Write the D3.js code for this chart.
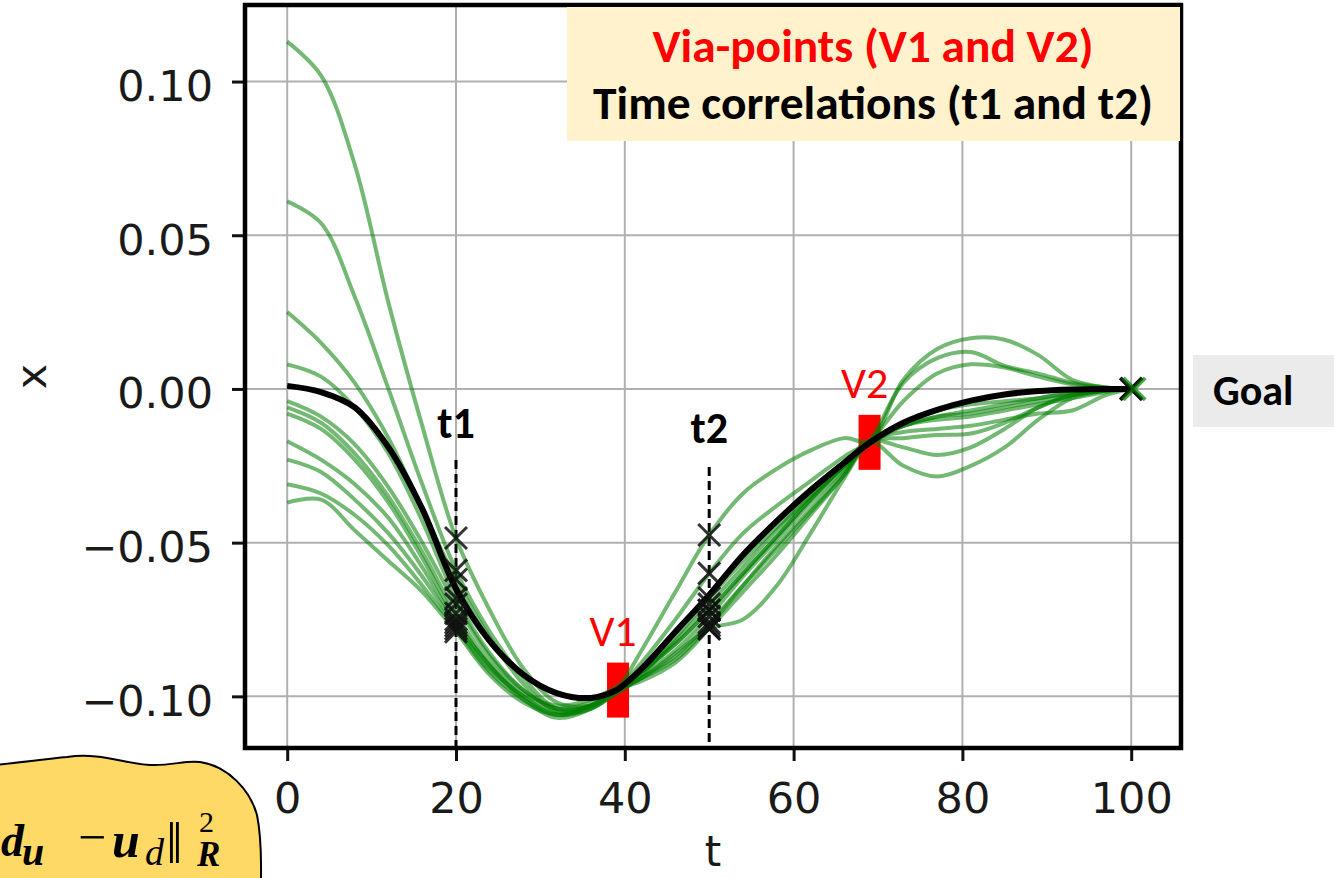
<!DOCTYPE html>
<html>
<head>
<meta charset="utf-8">
<script src="https://cdn.jsdelivr.net/npm/d3@7"></script>
<style>
  body { margin: 0; background: #fff; }
  svg { display: block; }
</style>
</head>
<body>
<div id="chart"></div>
<script>
// time grid shared by every trajectory
const tGrid = [0, 4, 8, 12, 16, 20, 24, 28, 32, 36, 39, 42, 46, 50, 54, 58, 62, 66, 69, 73, 77, 81, 85, 89, 93, 97, 100];

// black reference trajectory
const meanX = [0.001, -0.001, -0.006, -0.019, -0.039, -0.065, -0.082, -0.093, -0.099, -0.1005, -0.098, -0.091, -0.079, -0.067, -0.054, -0.043, -0.033, -0.024, -0.0175, -0.011, -0.0068, -0.0038, -0.0018, -0.0007, -0.0002, 0, 0];

// green sampled trajectories
const sample01 = [0.113, 0.102, 0.073, 0.028, -0.012, -0.0485, -0.072, -0.091, -0.102, -0.103, -0.099, -0.093, -0.081, -0.068, -0.056, -0.045, -0.035, -0.025, -0.018, -0.012, -0.009, -0.007, -0.005, -0.003, -0.0015, -0.0005, 0];
const sample02 = [0.061, 0.054, 0.030, 0.000, -0.031, -0.059, -0.079, -0.094, -0.104, -0.103, -0.098, -0.092, -0.083, -0.072, -0.060, -0.048, -0.036, -0.025, -0.017, 0.002, 0.010, 0.012, 0.0075, 0.005, 0.002, 0.0005, 0];
const sample03 = [0.025, 0.015, 0.002, -0.016, -0.039, -0.062, -0.081, -0.096, -0.105, -0.104, -0.098, -0.085, -0.066, -0.0475, -0.034, -0.026, -0.020, -0.016, -0.017, 0.003, 0.013, 0.0165, 0.016, 0.011, 0.003, 0.0005, 0];
const sample04 = [0.008, 0.004, -0.006, -0.021, -0.043, -0.068, -0.086, -0.098, -0.104, -0.103, -0.098, -0.089, -0.075, -0.060, -0.047, -0.038, -0.030, -0.022, -0.017, -0.004, 0.005, 0.008, 0.007, 0.004, 0.0015, 0.0003, 0];
const sample05 = [-0.004, -0.009, -0.018, -0.032, -0.050, -0.070, -0.087, -0.098, -0.104, -0.102, -0.098, -0.092, -0.082, -0.070, -0.058, -0.046, -0.035, -0.025, -0.017, -0.011, -0.007, -0.005, -0.004, -0.003, -0.001, -0.0003, 0];
const sample06 = [-0.006, -0.011, -0.021, -0.035, -0.053, -0.073, -0.089, -0.099, -0.103, -0.101, -0.097, -0.093, -0.085, -0.074, -0.061, -0.049, -0.037, -0.026, -0.017, -0.012, -0.010, -0.009, -0.007, -0.005, -0.003, -0.001, 0];
const sample07 = [-0.008, -0.013, -0.023, -0.037, -0.055, -0.075, -0.090, -0.100, -0.105, -0.103, -0.098, -0.094, -0.088, -0.077, -0.064, -0.051, -0.039, -0.027, -0.017, -0.014, -0.013, -0.012, -0.010, -0.008, -0.007, -0.002, 0];
const sample08 = [-0.017, -0.023, -0.031, -0.042, -0.058, -0.076, -0.090, -0.101, -0.107, -0.104, -0.098, -0.095, -0.089, -0.078, -0.066, -0.054, -0.041, -0.028, -0.017, -0.016, -0.015, -0.0145, -0.011, -0.006, -0.002, -0.0005, 0];
const sample09 = [-0.023, -0.027, -0.036, -0.047, -0.061, -0.077, -0.091, -0.100, -0.106, -0.104, -0.099, -0.094, -0.087, -0.076, -0.064, -0.052, -0.040, -0.028, -0.017, -0.019, -0.0215, -0.019, -0.013, -0.006, -0.002, -0.0005, 0];
const sample10 = [-0.031, -0.034, -0.041, -0.051, -0.064, -0.078, -0.092, -0.101, -0.106, -0.103, -0.098, -0.094, -0.086, -0.078, -0.075, -0.064, -0.047, -0.029, -0.017, -0.012, -0.009, -0.008, -0.006, -0.004, -0.002, -0.0005, 0];
const sample11 = [-0.037, -0.036, -0.046, -0.056, -0.066, -0.079, -0.093, -0.102, -0.106, -0.103, -0.098, -0.092, -0.083, -0.072, -0.060, -0.048, -0.036, -0.025, -0.017, -0.025, -0.0285, -0.025, -0.019, -0.010, -0.003, -0.0005, 0];
const samples = [sample01, sample02, sample03, sample04, sample05, sample06, sample07, sample08, sample09, sample10, sample11];

const xTicks = [0, 20, 40, 60, 80, 100];
const yTicks = [-0.10, -0.05, 0.00, 0.05, 0.10];

const corrTimes = [20, 50];
const corrLabels = ["t1", "t2"];

const viaLabels = ["V1", "V2"];
const viaT = [39.2, 69];
const viaX = [-0.0978, -0.0172];

const goalT = 100;
const goalX = 0;

const legendLines = ["Via-points (V1 and V2)", "Time correlations (t1 and t2)"];

const width = 1334;
const height = 878;
const frame = { left: 245, right: 1181, top: 5, bottom: 748 };

const x = d3.scaleLinear().domain([-5, 105.9]).range([frame.left, frame.right]);
const y = d3.scaleLinear().domain([-0.1168, 0.1249]).range([frame.bottom, frame.top]);

const svg = d3.select("#chart")
  .append("svg")
  .attr("width", width)
  .attr("height", height);

// grid
svg.append("g").selectAll("line")
  .data(xTicks)
  .join("line")
  .attr("x1", d => x(d)).attr("x2", d => x(d))
  .attr("y1", frame.top).attr("y2", frame.bottom)
  .attr("stroke", "#b0b0b0").attr("stroke-width", 2);

svg.append("g").selectAll("line")
  .data(yTicks)
  .join("line")
  .attr("y1", d => y(d)).attr("y2", d => y(d))
  .attr("x1", frame.left).attr("x2", frame.right)
  .attr("stroke", "#b0b0b0").attr("stroke-width", 2);

// axes
const xAxis = d3.axisBottom(x).tickValues(xTicks).tickSize(13).tickPadding(21);
svg.append("g")
  .attr("transform", `translate(0,${frame.bottom})`)
  .call(xAxis)
  .attr("font-family", "DejaVu Sans")
  .attr("font-size", 43)
  .call(g => g.select(".domain").remove())
  .call(g => g.selectAll(".tick line").attr("stroke", "#111").attr("stroke-width", 3))
  .call(g => g.selectAll(".tick text").attr("fill", "#1a1a1a"));

const yAxis = d3.axisLeft(y).tickValues(yTicks).tickFormat(d3.format(".2f")).tickSize(13).tickPadding(19);
svg.append("g")
  .attr("transform", `translate(${frame.left},0)`)
  .call(yAxis)
  .attr("font-family", "DejaVu Sans")
  .attr("font-size", 43)
  .call(g => g.select(".domain").remove())
  .call(g => g.selectAll(".tick line").attr("stroke", "#111").attr("stroke-width", 3))
  .call(g => g.selectAll(".tick text").attr("fill", "#1a1a1a").attr("dy", "0.44em"));

// axis titles
svg.append("text")
  .attr("x", (frame.left + frame.right) / 2)
  .attr("y", 866)
  .attr("text-anchor", "middle")
  .attr("font-family", "DejaVu Sans")
  .attr("font-size", 42)
  .attr("fill", "#1a1a1a")
  .text("t");

svg.append("text")
  .attr("transform", `translate(46,${(frame.top + frame.bottom) / 2}) rotate(-90)`)
  .attr("text-anchor", "middle")
  .attr("font-family", "DejaVu Sans")
  .attr("font-size", 43)
  .attr("fill", "#1a1a1a")
  .text("x");

// via-point boxes (under the lines)
svg.append("g").selectAll("rect")
  .data(viaT)
  .join("rect")
  .attr("x", d => x(d) - 11)
  .attr("y", (d, i) => y(viaX[i]) - 27)
  .attr("width", 22)
  .attr("height", 55)
  .attr("fill", "#ff0000");

// dashed correlation lines
const corrTop = [460, 467];
svg.append("g").selectAll("line")
  .data(corrTimes)
  .join("line")
  .attr("x1", d => x(d)).attr("x2", d => x(d))
  .attr("y1", (d, i) => corrTop[i]).attr("y2", frame.bottom)
  .attr("stroke", "#000").attr("stroke-width", 3)
  .attr("stroke-dasharray", "9,5");

const line = d3.line()
  .x((d, i) => x(tGrid[i]))
  .y(d => y(d))
  .curve(d3.curveCatmullRom.alpha(0.5));

svg.append("g").selectAll("path")
  .data(samples)
  .join("path")
  .attr("d", line)
  .attr("fill", "none")
  .attr("stroke", "#008000")
  .attr("stroke-opacity", 0.55)
  .attr("stroke-width", 4)
  .attr("stroke-linejoin", "round");

svg.append("path")
  .datum(meanX)
  .attr("d", line)
  .attr("fill", "none")
  .attr("stroke", "#000")
  .attr("stroke-width", 6);

// cross markers at t1, t2
const crossPath = "M-11,-11L11,11M-11,11L11,-11";
const crosses = [];
corrTimes.forEach(t => {
  const k = tGrid.indexOf(t);
  samples.forEach(s => crosses.push([t, s[k]]));
});
svg.append("g").selectAll("path")
  .data(crosses)
  .join("path")
  .attr("transform", d => `translate(${x(d[0])},${y(d[1])})`)
  .attr("d", crossPath)
  .attr("stroke", "#111")
  .attr("stroke-opacity", 0.85)
  .attr("stroke-width", 3);

// goal marker
svg.append("path")
  .attr("transform", `translate(${x(goalT)},${y(goalX)})`)
  .attr("d", crossPath)
  .attr("stroke", "#111").attr("stroke-width", 4);
svg.append("path")
  .attr("transform", `translate(${x(goalT) + 3},${y(goalX)})`)
  .attr("d", crossPath)
  .attr("stroke", "#008000").attr("stroke-opacity", 0.7).attr("stroke-width", 4);

// frame
svg.append("rect")
  .attr("x", frame.left).attr("y", frame.top)
  .attr("width", frame.right - frame.left)
  .attr("height", frame.bottom - frame.top)
  .attr("fill", "none")
  .attr("stroke", "#000")
  .attr("stroke-width", 4.5);

// labels t1/t2 and V1/V2
const labelFont = "Carlito, Lato, 'Open Sans', sans-serif";
const corrLabelY = [438, 443];
svg.append("g").selectAll("text")
  .data(corrLabels)
  .join("text")
  .attr("x", (d, i) => x(corrTimes[i]))
  .attr("y", (d, i) => corrLabelY[i])
  .attr("text-anchor", "middle")
  .attr("font-family", labelFont)
  .attr("font-weight", "bold")
  .attr("font-size", 44)
  .attr("fill", "#000")
  .text(d => d);

svg.append("g").selectAll("text")
  .data(viaLabels)
  .join("text")
  .attr("x", (d, i) => x(viaT[i]) - 5)
  .attr("y", (d, i) => y(viaX[i]) - 44)
  .attr("text-anchor", "middle")
  .attr("font-family", labelFont)
  .attr("font-size", 44)
  .attr("fill", "#ff0000")
  .text(d => d);

// legend box
svg.append("rect")
  .attr("x", 567).attr("y", 7)
  .attr("width", 613).attr("height", 134)
  .attr("fill", "#fff2cc");

const legendColors = ["#ff0000", "#000"];
const legendY = [62, 119];
const legendLen = [441, 560];
svg.append("g").selectAll("text")
  .data(legendLines)
  .join("text")
  .attr("x", 873)
  .attr("y", (d, i) => legendY[i])
  .attr("text-anchor", "middle")
  .attr("font-family", labelFont)
  .attr("font-weight", "bold")
  .attr("font-size", 46)
  .attr("fill", (d, i) => legendColors[i])
  .attr("textLength", (d, i) => legendLen[i])
  .attr("lengthAdjust", "spacingAndGlyphs")
  .text(d => d);

// goal box
svg.append("rect")
  .attr("x", 1193).attr("y", 355)
  .attr("width", 141).attr("height", 72)
  .attr("fill", "#ebebeb");
svg.append("text")
  .attr("x", 1213).attr("y", 405)
  .attr("font-family", labelFont)
  .attr("font-weight", "bold")
  .attr("font-size", 42)
  .attr("fill", "#000")
  .text("Goal");

// formula bubble (bottom-left)
svg.append("path")
  .attr("d", "M-5,765 C25,762 45,759 67,757 C100,752 125,764 150,765 C172,766 185,760 200,762 C228,766 250,790 257,815 C262,840 261,860 261,880 L-5,880 Z")
  .attr("fill", "#ffd966")
  .attr("stroke", "#000")
  .attr("stroke-width", 2);

const mathFont = "'Liberation Serif', 'DejaVu Serif', serif";
const math = svg.append("text")
  .attr("font-family", mathFont)
  .attr("fill", "#000");
math.append("tspan").attr("x", 1).attr("y", 856)
  .attr("font-size", 46).attr("font-weight", "bold").attr("font-style", "italic").text("d");
math.append("tspan").attr("x", 22).attr("y", 865)
  .attr("font-size", 40).attr("font-weight", "bold").attr("font-style", "italic").text("u");
math.append("tspan").attr("x", 78).attr("y", 854)
  .attr("font-size", 50).text("\u2212");
math.append("tspan").attr("x", 112).attr("y", 857)
  .attr("font-size", 50).attr("font-weight", "bold").attr("font-style", "italic").text("u");
math.append("tspan").attr("x", 145).attr("y", 865)
  .attr("font-size", 38).attr("font-style", "italic").text("d");
math.append("tspan").attr("x", 166).attr("y", 863)
  .attr("font-size", 60).text("\u2016");

const mathSup = svg.append("text")
  .attr("font-family", mathFont)
  .attr("fill", "#000");
mathSup.append("tspan").attr("x", 199).attr("y", 832)
  .attr("font-size", 30).text("2");
mathSup.append("tspan").attr("x", 197).attr("y", 866)
  .attr("font-size", 35).attr("font-weight", "bold").attr("font-style", "italic").text("R");
</script>
</body>
</html>
